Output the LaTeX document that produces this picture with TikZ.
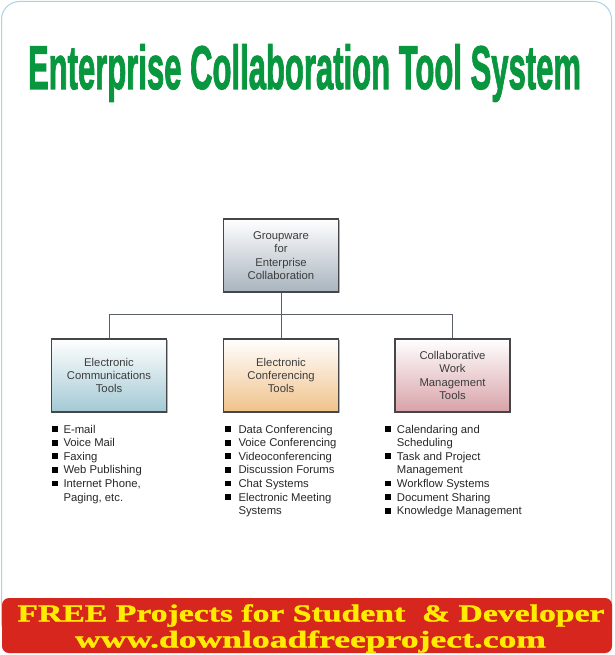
\documentclass[tikz,border=0pt]{standalone}
\usepackage{graphicx}
\usepackage{fontspec}
\setmainfont{Liberation Sans}
\newfontfamily\titlefont[FakeBold=2]{Liberation Sans Bold}
\newfontfamily\bannerfont[FakeBold=1.2]{Liberation Serif Bold}
\usetikzlibrary{shadows}
\definecolor{titlegreen}{RGB}{8,150,62}
\definecolor{framecol}{RGB}{168,212,230}
\definecolor{bannerred}{RGB}{214,38,30}
\definecolor{banneryellow}{RGB}{255,236,0}
\definecolor{boxborder}{RGB}{70,70,72}
\definecolor{boxtext}{RGB}{60,60,60}
\definecolor{listtext}{RGB}{40,40,40}
\definecolor{linecol}{RGB}{90,95,105}
\definecolor{graybot}{RGB}{168,180,190}
\definecolor{bluebot}{RGB}{162,201,212}
\definecolor{orangebot}{RGB}{240,194,138}
\definecolor{pinkbot}{RGB}{216,162,168}
\tikzset{
  box/.style={draw=boxborder, line width=1.1pt, minimum width=115pt, minimum height=73pt,
    inner sep=0pt, align=center, font=\fontsize{11.3}{13.4}\selectfont, text=boxtext,
    drop shadow={shadow xshift=1pt, shadow yshift=-1pt, fill=gray!60, opacity=1}},
  item/.style={anchor=base west, inner sep=0pt, font=\fontsize{11.3}{13.6}\selectfont, text=listtext},
  conn/.style={draw=linecol, line width=0.9pt},
}
\begin{document}
\begin{tikzpicture}[x=1pt,y=-1pt]
\useasboundingbox (0,0) rectangle (614,655);
\fill[white] (0,0) rectangle (614,655);
% outer frame
\draw[framecol, line width=1pt, rounded corners=18pt] (1.5,1.5) rectangle (611.5,640);
% title
\node[anchor=base, inner sep=0pt, text=titlegreen] (title) at (304.5,89)
  {\resizebox*{553pt}{57.5pt}{\titlefont\fontsize{64}{64}\selectfont Enterprise Collaboration Tool System}};
% boxes
\node[box, top color=white, bottom color=graybot] (top) at (281,255.5)
  {Groupware\\for\\Enterprise\\Collaboration};
\node[box, top color=white, bottom color=bluebot] (left) at (109,375.5)
  {Electronic\\Communications\\Tools};
\node[box, top color=white, bottom color=orangebot] (mid) at (281,375.5)
  {Electronic\\Conferencing\\Tools};
\node[box, top color=white, bottom color=pinkbot] (right) at (452.5,375.5)
  {Collaborative\\Work\\Management\\Tools};
% connectors
\coordinate (j) at (281,314);
\draw[conn] (top.south) -- (top.south |- j);
\draw[conn] (left.north) -- (left.north |- j) -- (right.north |- j) -- (right.north);
\draw[conn] (mid.north) -- (mid.north |- j);
% left list
\foreach \t [count=\i] in {E-mail,Voice Mail,Faxing,Web Publishing,{Internet Phone,},{Paging, etc.}}
  \node[item] (a\i) at (63.3,{433+13.6*(\i-1)}) {\t};
\foreach \i in {1,...,5}
  \fill[black] (52.3,{433+13.6*(\i-1)-6.8}) rectangle ++(5.8,5.8);
% middle list
\foreach \t [count=\i] in {Data Conferencing,Voice Conferencing,Videoconferencing,Discussion Forums,Chat Systems,Electronic Meeting,Systems}
  \node[item] (b\i) at (238.3,{433+13.6*(\i-1)}) {\t};
\foreach \i in {1,...,6}
  \fill[black] (225,{433+13.6*(\i-1)-6.8}) rectangle ++(5.8,5.8);
% right list
\foreach \t [count=\i] in {Calendaring and,Scheduling,Task and Project,Management,Workflow Systems,Document Sharing,Knowledge Management}
  \node[item] (c\i) at (396.7,{433+13.6*(\i-1)}) {\t};
\foreach \i in {1,3,5,6,7}
  \fill[black] (385,{433+13.6*(\i-1)-6.8}) rectangle ++(5.8,5.8);
% banner
\fill[bannerred, rounded corners=7pt] (2,598) rectangle (612,653);
\node[anchor=base, inner sep=0pt, text=banneryellow] (b1) at (311,621.5)
  {\resizebox*{587pt}{22.5pt}{\bannerfont\fontsize{24}{24}\selectfont FREE Projects for Student \ \& Developer}};
\node[anchor=base, inner sep=0pt, text=banneryellow] (b2) at (310.5,647.5)
  {\resizebox*{471pt}{22pt}{\bannerfont\fontsize{24}{24}\selectfont www.downloadfreeproject.com}};
\end{tikzpicture}
\end{document}
